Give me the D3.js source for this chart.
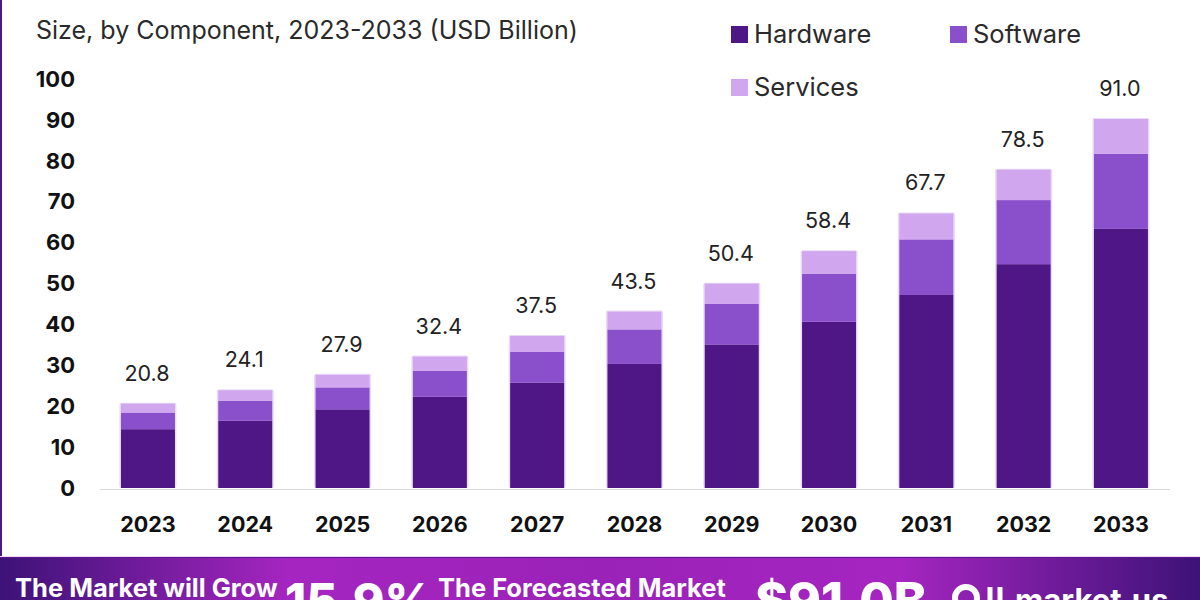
<!DOCTYPE html>
<html>
<head>
<meta charset="utf-8">
<script src="https://cdn.jsdelivr.net/npm/d3@7"></script>
<style>
  html, body { margin: 0; padding: 0; background: #fff; }
  svg { display: block; font-family: "Inter", sans-serif; }
</style>
</head>
<body>
<svg id="chart" width="1200" height="600"></svg>
<script>
const years = ["2023", "2024", "2025", "2026", "2027", "2028", "2029", "2030", "2031", "2032", "2033"];
const hardware = [14.5, 16.6, 19.4, 22.5, 26.0, 30.6, 35.4, 41.0, 47.6, 55.2, 63.9];
const software = [4.1, 4.9, 5.4, 6.4, 7.6, 8.5, 10.0, 11.8, 13.7, 15.8, 18.5];
const services = [2.2, 2.6, 3.1, 3.5, 3.9, 4.4, 5.0, 5.6, 6.4, 7.5, 8.6];
const totals = ["20.8", "24.1", "27.9", "32.4", "37.5", "43.5", "50.4", "58.4", "67.7", "78.5", "91.0"];
const yTicks = [0, 10, 20, 30, 40, 50, 60, 70, 80, 90, 100];
const seriesNames = ["Hardware", "Software", "Services"];
const seriesColors = ["#4f1785", "#8a4fcb", "#d0a6ee"];

const svg = d3.select("#chart");

const defs = svg.append("defs");
const grad = defs.append("linearGradient").attr("id", "footer");
grad.append("stop").attr("offset", "0%").attr("stop-color", "#3d1277");
grad.append("stop").attr("offset", "24%").attr("stop-color", "#a525c0");
grad.append("stop").attr("offset", "50%").attr("stop-color", "#9a22b8");
grad.append("stop").attr("offset", "75%").attr("stop-color", "#a525c0");
grad.append("stop").attr("offset", "100%").attr("stop-color", "#3d1277");

// left border of the card
svg.append("rect").attr("x", 0).attr("y", 0).attr("width", 2).attr("height", 558).attr("fill", "#4b1a7f");

// title, the upper line is cut off in the picture so only the second one stays
svg.append("text").attr("x", 36).attr("y", 39)
    .attr("font-size", 25).attr("fill", "#2a2a2a")
    .text("Size, by Component, 2023-2033 (USD Billion)");

const x = d3.scaleBand().domain(years).range([101.5, 1167.4]).paddingInner(0.445).paddingOuter(0.2);
const y = d3.scaleLinear().domain([0, 100]).range([488, 82.5]);
const yLabel = d3.scaleLinear().domain([0, 100]).range([488, 79]);

const rows = years.map((year, i) => ({ year, Hardware: hardware[i], Software: software[i], Services: services[i] }));
const stacked = d3.stack().keys(seriesNames)(rows);

// soft lavender edge around the bars
svg.append("g").selectAll("rect")
    .data(stacked[2])
    .enter().append("rect")
    .attr("x", d => x(d.data.year) - 1.5)
    .attr("width", x.bandwidth() + 3)
    .attr("y", d => y(d[1]) - 1)
    .attr("height", d => y(0) - y(d[1]) + 1)
    .attr("rx", 2)
    .attr("fill", "#e9daf8");

svg.append("g").selectAll("g")
    .data(stacked)
    .enter().append("g")
    .attr("fill", (d, i) => seriesColors[i])
    .selectAll("rect")
    .data(d => d)
    .enter().append("rect")
    .attr("x", d => x(d.data.year))
    .attr("width", x.bandwidth())
    .attr("y", d => y(d[1]))
    .attr("height", d => y(d[0]) - y(d[1]));

// baseline
svg.append("line").attr("x1", 100).attr("x2", 1170).attr("y1", 489.5).attr("y2", 489.5)
    .attr("stroke", "#d9d9d9").attr("stroke-width", 1);

// y labels
svg.append("g").selectAll("text")
    .data(yTicks)
    .enter().append("text")
    .attr("x", 75).attr("y", d => yLabel(d)).attr("dy", "0.35em")
    .attr("text-anchor", "end").attr("font-size", 22).attr("font-weight", 700).attr("fill", "#111")
    .text(d => d);

// x labels
svg.append("g").selectAll("text")
    .data(years)
    .enter().append("text")
    .attr("x", d => x(d) + x.bandwidth() / 2).attr("y", 532)
    .attr("text-anchor", "middle").attr("font-size", 21.5).attr("font-weight", 700).attr("fill", "#111")
    .text(d => d);

// totals above the bars
svg.append("g").selectAll("text")
    .data(totals)
    .enter().append("text")
    .attr("x", (d, i) => x(years[i]) + x.bandwidth() / 2 - 1)
    .attr("y", d => y(+d) - 23)
    .attr("text-anchor", "middle").attr("font-size", 21.5).attr("fill", "#222")
    .text(d => d);

// legend
const legendX = [731, 950, 731];
const legendY = [34, 34, 87];
const legend = svg.append("g").selectAll("g")
    .data(seriesNames)
    .enter().append("g")
    .attr("transform", (d, i) => `translate(${legendX[i]},${legendY[i]})`);
legend.append("rect").attr("x", 0).attr("y", -8).attr("width", 17).attr("height", 17)
    .attr("fill", (d, i) => seriesColors[i]);
legend.append("text").attr("x", 23).attr("dy", "0.35em")
    .attr("font-size", 25.5).attr("fill", "#2a2a2a")
    .text(d => d);

// footer band
svg.append("rect").attr("x", 0).attr("y", 557).attr("width", 1200).attr("height", 43).attr("fill", "url(#footer)");
svg.append("line").attr("x1", 0).attr("x2", 1200).attr("y1", 556.5).attr("y2", 556.5)
    .attr("stroke", "#f0d8f5").attr("stroke-width", 1);
svg.append("line").attr("x1", 0).attr("x2", 1200).attr("y1", 557.5).attr("y2", 557.5)
    .attr("stroke", "#5a1590").attr("stroke-width", 1);

const footerSmall = [
    { text: "The Market will Grow", x: 15 },
    { text: "The Forecasted Market", x: 438 }
];
svg.append("g").selectAll("text")
    .data(footerSmall)
    .enter().append("text")
    .attr("x", d => d.x).attr("y", 597)
    .attr("font-size", 25.5).attr("font-weight", 700).attr("fill", "#fff")
    .text(d => d.text);

const footerBig = [
    { text: "15.9%", x: 285, size: 48 },
    { text: "$91.0B", x: 755, size: 50 }
];
svg.append("g").selectAll("text")
    .data(footerBig)
    .enter().append("text")
    .attr("x", d => d.x).attr("y", 618)
    .attr("font-size", d => d.size).attr("font-weight", 800).attr("fill", "#fff")
    .text(d => d.text);

svg.append("text").attr("x", 1015).attr("y", 611)
    .attr("font-size", 31).attr("font-weight", 700).attr("fill", "#fff")
    .text("market.us");

// logo next to the name
const logo = svg.append("g").attr("fill", "none").attr("stroke", "#fff");
logo.append("circle").attr("cx", 966).attr("cy", 598).attr("r", 11).attr("stroke-width", 6);
logo.append("line").attr("x1", 990).attr("x2", 990).attr("y1", 587).attr("y2", 600).attr("stroke-width", 5);
logo.append("line").attr("x1", 1000).attr("x2", 1000).attr("y1", 587).attr("y2", 600).attr("stroke-width", 5);
</script>
</body>
</html>
